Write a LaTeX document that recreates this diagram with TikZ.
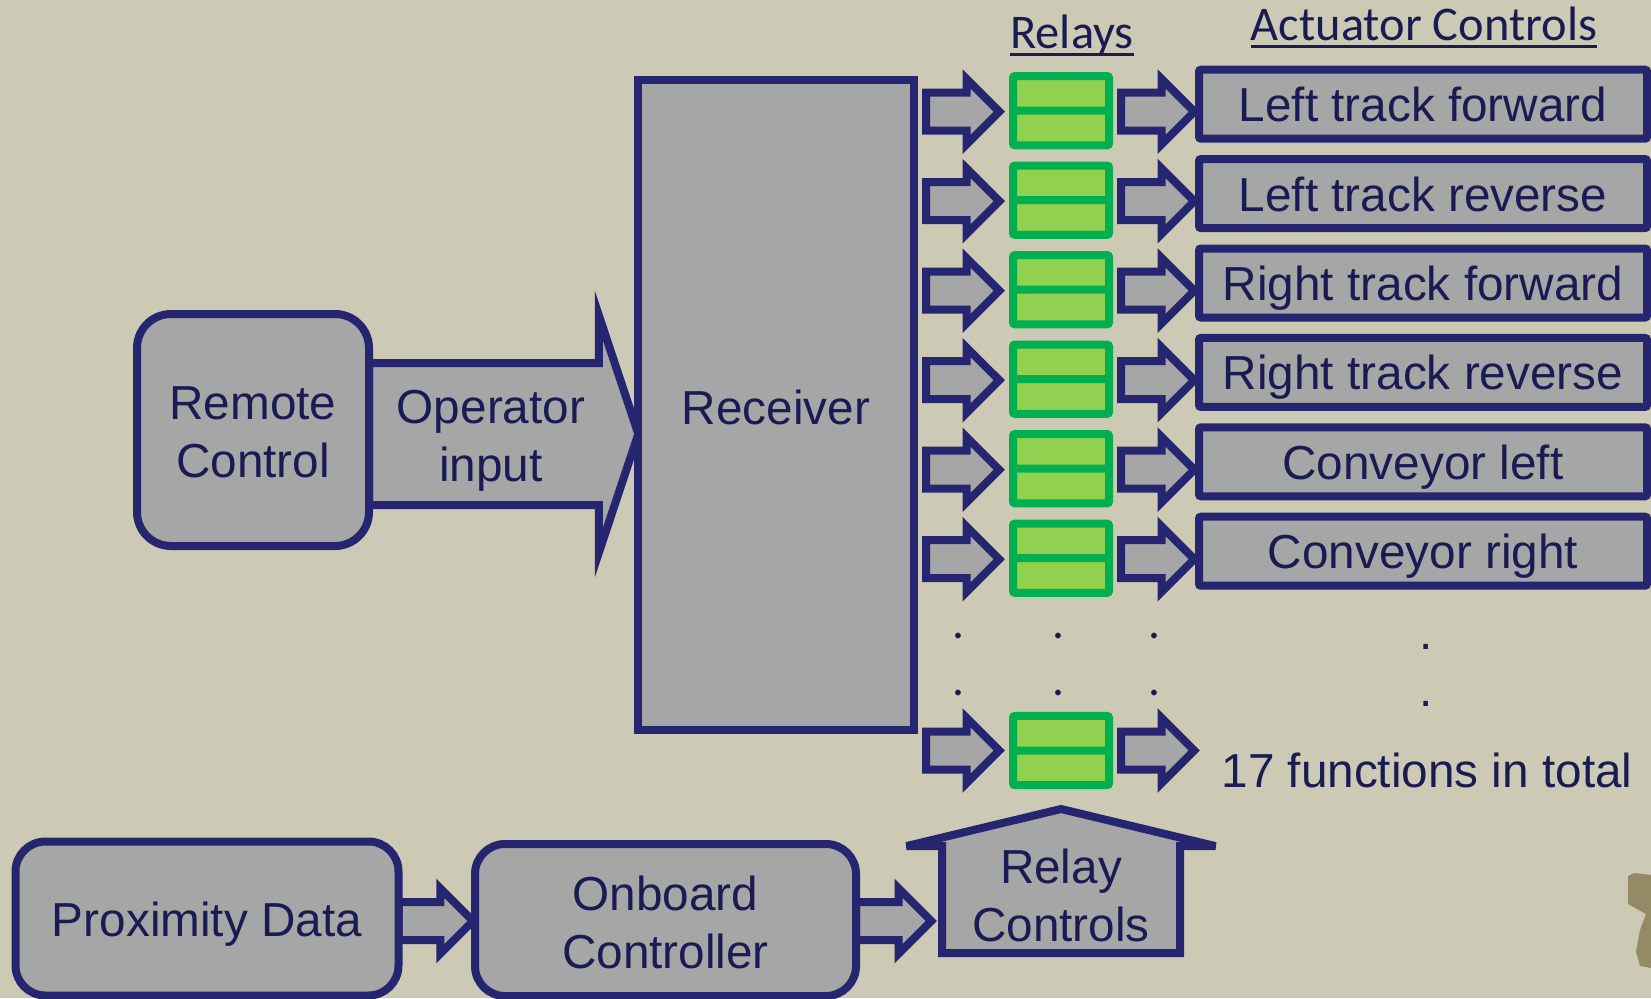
\documentclass[tikz,border=0pt]{standalone}
\usepackage{fontspec}
\usepackage{xcolor}
\usetikzlibrary{positioning, shapes.arrows, shapes.multipart}
\setmainfont{Liberation Sans}
\newfontfamily\calibrilike{Carlito}
\definecolor{bgtan}{HTML}{CCCAB4}
\definecolor{boxgray}{HTML}{A6A6A6}
\definecolor{edgeblue}{HTML}{262670}
\definecolor{inkblue}{HTML}{1B1B54}
\definecolor{relayedge}{HTML}{00B050}
\definecolor{relayfill}{HTML}{92D050}
\definecolor{logobrown}{HTML}{958A66}
\newcommand{\ulbl}[1]{\setbox0\hbox{#1}\rlap{\rule[-4pt]{\wd0}{1.5pt}}\box0}

\begin{document}
\begin{tikzpicture}[
    x=0.5pt, y=-0.5pt,
    every node/.style={outer sep=0pt, text=inkblue, font=\fontsize{23.85}{29}\selectfont},
    graybox/.style={draw=edgeblue, fill=boxgray, line width=4pt, inner sep=0pt, align=center},
    roundbox/.style={graybox, rounded corners=17pt},
    actuator/.style={graybox, rounded corners=1pt, minimum width=224pt, minimum height=34.5pt,
      text height=17.5pt, text depth=0pt},
    relay/.style={rectangle split, rectangle split parts=2, draw=relayedge, fill=relayfill,
      line width=4pt, rounded corners=1pt, inner xsep=0pt, inner ysep=4.5pt, minimum width=48pt},
    blockarrow/.style={single arrow, draw=edgeblue, fill=boxgray, line width=4pt, inner xsep=0pt,
      inner ysep=7.5pt, single arrow head extend=6.85pt, minimum height=36.65pt},
    plaintext/.style={inner sep=0pt, align=center},
    heading/.style={plaintext, anchor=base, font=\fontsize{24.2}{29}\calibrilike}
  ]
  % page
  \fill[bgtan] (0,0) rectangle (1651,998);
  \useasboundingbox (0,0) rectangle (1651,998);

  % top left
  \node[single arrow, draw=edgeblue, fill=boxgray, line width=4pt, inner xsep=0pt, inner ysep=33.5pt,
    single arrow head extend=23.8pt, single arrow tip angle=143.2, minimum height=134.65pt, anchor=tail]
    (opinput) at (369,434) {};
  \node[roundbox, minimum width=116pt, minimum height=116pt] (remote) at (253,430) {};
  \node[plaintext] (remotetext) at (253,432) {Remote\\Control};
  \node[plaintext] (optext) at (491,441) {Operator\\input};
  \node[graybox, minimum width=138pt, minimum height=325pt, text height=19pt, text depth=0pt]
    (receiver) at (776,405) {Receiver};

  % one row per function
  \foreach \i/\name in {0/Left track forward, 1/Left track reverse, 2/Right track forward,
      3/Right track reverse, 4/Conveyor left, 5/Conveyor right} {
    \node[relay] (relay\i) at (1061,{110.7+89.5*\i}) {};
    \node[blockarrow, left=6.85pt of relay\i, yshift=-0.5pt] (in\i) {};
    \node[blockarrow, right=6pt of relay\i, yshift=-0.5pt] (out\i) {};
    \node[actuator] (act\i) at (1423,{104.2+89.4*\i}) {\name};
  }
  \node[relay] (relaylast) at (1061,750.5) {};
  \node[blockarrow, left=6.85pt of relaylast] (inlast) {};
  \node[blockarrow, right=6pt of relaylast] (outlast) {};
  \node[plaintext, anchor=base] (total) at (1427,787) {17 functions in total};

  % dots
  \foreach \x/\y [count=\n] in {958/638.5, 1058/638.5, 1154/638.5, 958/695.5, 1058/695.5, 1154/695.5}
    \node[plaintext, anchor=base, font=\fontsize{23.75}{29}\calibrilike] (dot\n) at (\x,\y) {.};
  \node[plaintext, anchor=base] (dotr1) at (1426,649.5) {.};
  \node[plaintext, anchor=base] (dotr2) at (1426,706.5) {.};

  % headings
  \node[heading] (relayhead) at (1072,48) {\ulbl{Relays}};
  \node[heading] (acthead) at (1424,40) {\ulbl{Actuator Controls}};

  % bottom row
  \node[blockarrow, minimum height=37.15pt, anchor=tail] (proxarrow) at (398.7,921) {};
  \node[blockarrow, minimum height=37.65pt, anchor=tail] (ctrlarrow) at (856,921) {};
  \node[roundbox, minimum width=191.5pt, minimum height=77pt, rounded corners=15pt,
    text height=17.5pt, text depth=0pt] (prox) at (207,918.5) {Proximity Data};
  \node[roundbox, minimum width=190.5pt, minimum height=76pt, rounded corners=15pt] (onboard) at (665.5,920) {};
  \node[plaintext] (onboardtext) at (665.5,922) {Onboard\\Controller};
  \node[single arrow, draw=edgeblue, fill=boxgray, line width=4pt, miter limit=1.5, inner xsep=0pt,
    inner ysep=57.5pt, single arrow head extend=17.75pt, single arrow tip angle=153, minimum height=72pt,
    rotate=90, anchor=tail] (relayctrl) at (1061,953) {};
  \node[plaintext] (relayctrltext) at (1061,895) {Relay\\Controls};

  % logo fragment at the page edge
  \fill[logobrown] (1628,876) -- (1634,873) -- (1651,875) -- (1651,968) -- (1640,966) -- (1636,952)
    -- (1640,930) -- (1646,914) -- (1628,904) -- cycle;
\end{tikzpicture}
\end{document}
